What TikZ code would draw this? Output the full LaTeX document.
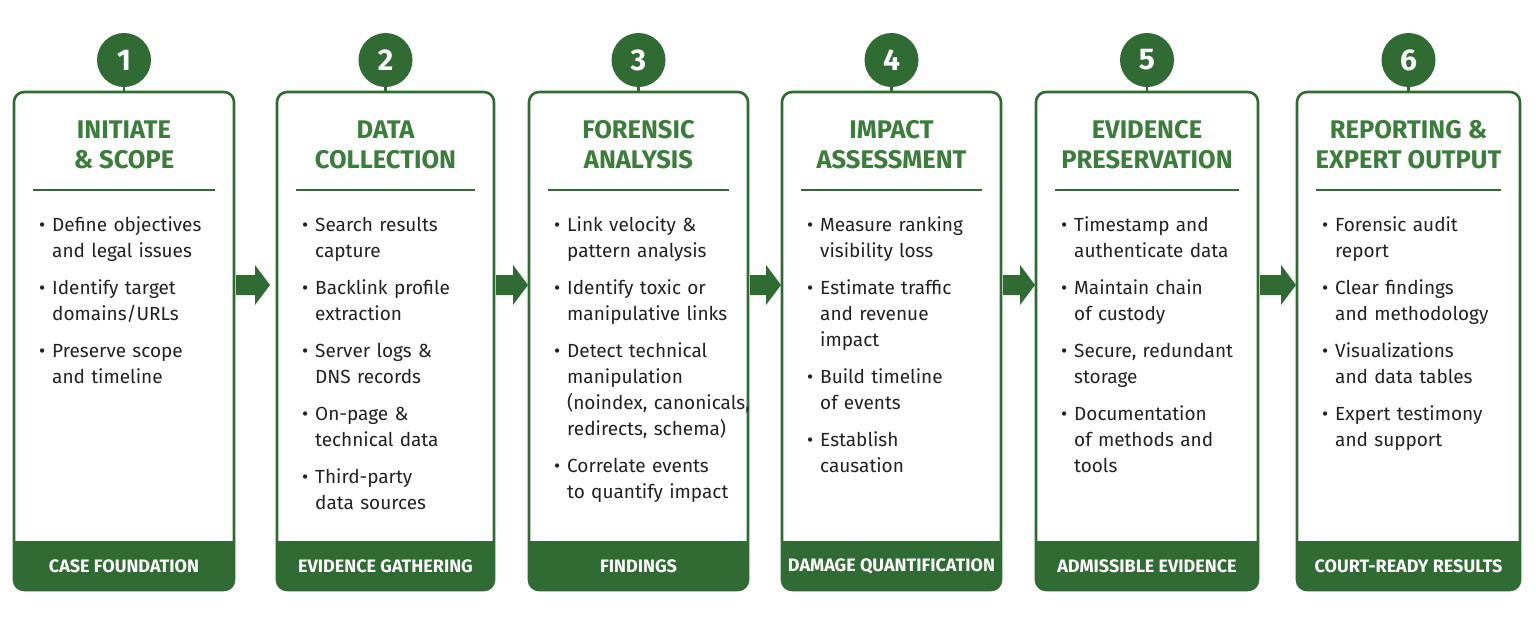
\documentclass[tikz,border=0pt]{standalone}
\usepackage{fontspec}
\setmainfont{Fira Sans}
\usepackage{enumitem}
\definecolor{gr}{HTML}{2F6B32}
\definecolor{tg}{HTML}{3B7D3B}
\definecolor{tx}{HTML}{222222}
\tikzset{
 box/.style={draw=gr,line width=2.6pt,rounded corners=10pt},
 num/.style={circle,fill=gr,minimum size=54pt,inner sep=0pt,text=white,font=\fontsize{30}{30}\selectfont\bfseries},
 ttl/.style={text=tg,font=\fontsize{25.5}{30}\selectfont\bfseries,align=center},
 foot/.style={text=white,font=\fontsize{18}{18}\selectfont\bfseries},
 items/.style={anchor=north west,text=tx,inner sep=0pt,text width=200pt,font=\fontsize{19}{26}\selectfont},
 barrow/.style={fill=gr}
}
\newcommand{\col}[7]{% #1 name, #2 left, #3 right, #4 number, #5 title, #6 footer, #7 items
 \pgfmathsetmacro{\cx}{(#2+#3)/2}
 \draw[gr,line width=2.6pt] (\cx,92) -- (\cx,80);
 \node[num] (n#1) at (\cx,60) {#4};
 \fill[gr,rounded corners=10pt] (#2,541) -- (#2,590) -- (#3,590) -- (#3,541) -- cycle;
 \fill[gr] (#2-1.3,541) rectangle (#3+1.3,555);
 \draw[box] (#2,92) rectangle (#3,590);
 \node[ttl] (t#1) at (\cx,145) {#5};
 \draw[gr,line width=1.8pt] (#2+19,190) -- (#3-19,190);
 \node[foot] (f#1) at (\cx,566) {#6};
 \node[items] (i#1) at (#2+23,205) {\begin{itemize}[leftmargin=15pt,labelsep=7pt,itemsep=11pt,parsep=0pt,topsep=0pt,partopsep=0pt]#7\end{itemize}};
}
\newcommand{\barr}[2]{% arrow from x #1 to #2
 \fill[gr] (#1,275) -- (#2-15,275) -- (#2-15,265) -- (#2,285) -- (#2-15,305) -- (#2-15,295) -- (#1,295) -- cycle;
}
\begin{document}
\begin{tikzpicture}[x=1pt,y=-1pt]
\useasboundingbox[fill=white] (0,0) rectangle (1536,619);
\col{a}{14}{234}{1}{INITIATE\\\& SCOPE}{CASE FOUNDATION}{%
 \item Define objectives\\and legal issues
 \item Identify target\\domains/URLs
 \item Preserve scope\\and timeline}
\col{b}{277}{494}{2}{DATA\\COLLECTION}{EVIDENCE GATHERING}{%
 \item Search results\\capture
 \item Backlink profile\\extraction
 \item Server logs \&\\DNS records
 \item On-page \&\\technical data
 \item Third-party\\data sources}
\col{c}{529}{748}{3}{FORENSIC\\ANALYSIS}{FINDINGS}{%
 \item Link velocity \&\\pattern analysis
 \item Identify toxic or\\manipulative links
 \item Detect technical\\manipulation\\(noindex, canonicals,\\redirects, schema)
 \item Correlate events\\to quantify impact}
\col{d}{782}{1001}{4}{IMPACT\\ASSESSMENT}{DAMAGE QUANTIFICATION}{%
 \item Measure ranking\\visibility loss
 \item Estimate traffic\\and revenue\\impact
 \item Build timeline\\of events
 \item Establish\\causation}
\col{e}{1036}{1258}{5}{EVIDENCE\\PRESERVATION}{ADMISSIBLE EVIDENCE}{%
 \item Timestamp and\\authenticate data
 \item Maintain chain\\of custody
 \item Secure, redundant\\storage
 \item Documentation\\of methods and\\tools}
\col{f}{1297}{1520}{6}{REPORTING \&\\EXPERT OUTPUT}{COURT-READY RESULTS}{%
 \item Forensic audit\\report
 \item Clear findings\\and methodology
 \item Visualizations\\and data tables
 \item Expert testimony\\and support}
\barr{236}{270}
\barr{496}{528}
\barr{750}{781}
\barr{1003}{1035}
\barr{1260}{1296}
\end{tikzpicture}
\end{document}
